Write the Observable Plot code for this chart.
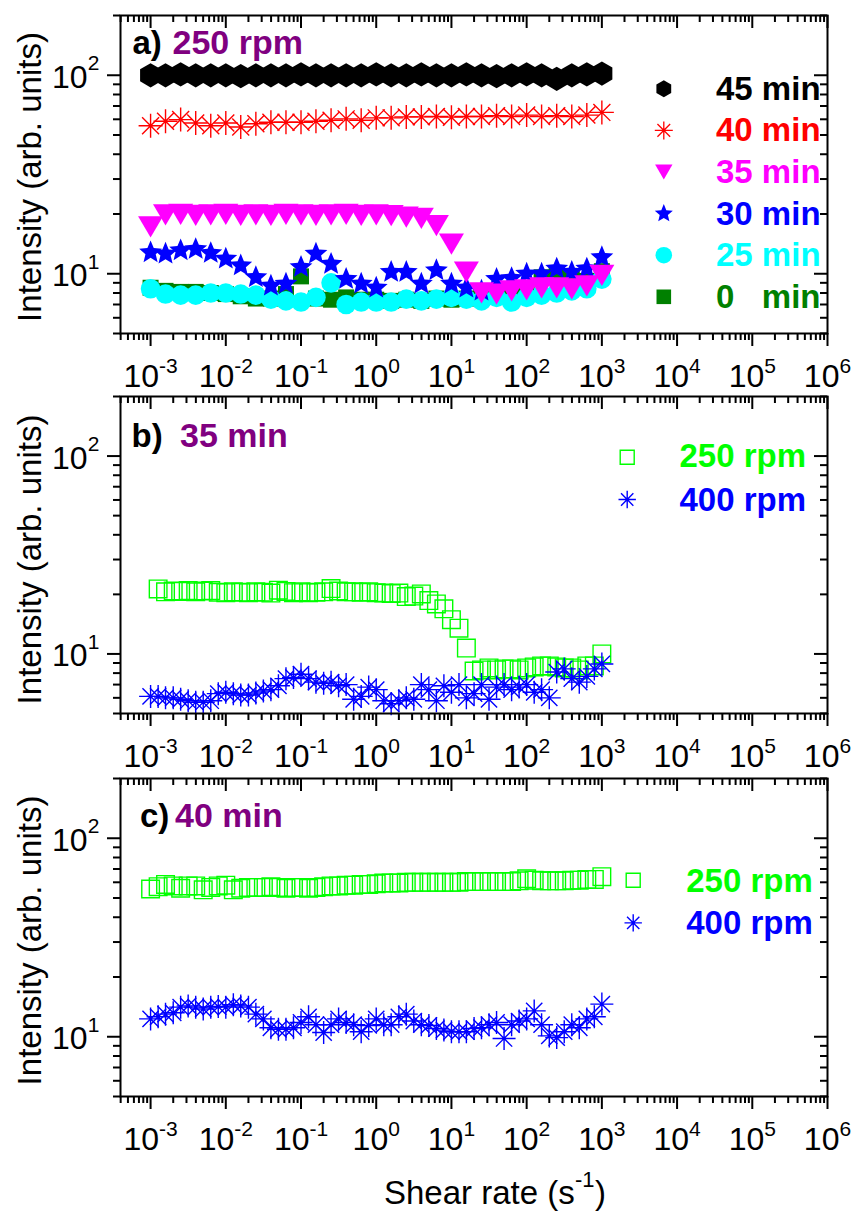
<!DOCTYPE html>
<html><head><meta charset="utf-8">
<script src="https://cdn.jsdelivr.net/npm/d3@7"></script>
<script src="https://cdn.jsdelivr.net/npm/@observablehq/plot@0.6"></script>
<style>
body{margin:0;background:#fff;}
#chart{position:relative;width:854px;height:1211px;background:#fff;overflow:hidden;}
#chart svg{position:absolute;left:0;overflow:visible;}
</style></head><body><div id="chart"></div>
<script>
// ---------- data ----------
const shearRateA = [0.001,0.00158,0.00251,0.00398,0.00631,0.01,0.0158,0.0251,0.0398,0.0631,0.1,0.158,0.251,0.398,0.631,1,1.58,2.51,3.98,6.31,10,15.8,25.1,39.8,63.1,100,158,251,398,631,1000];
const a45min = [100,100,101,100,100,100,99,100,100,100,101,100,100,100,100,101,100,100,101,100,100,101,100,99,100,101,100,96,100,101,102];
const a40min = [55.7,58.6,59.8,57.5,55.7,57.5,54.9,57.0,58.0,58.0,58.0,58.6,59.3,60.3,59.3,61.0,61.0,61.7,61.7,62.0,61.5,62.0,62.0,62.5,62.0,63.0,62.0,62.5,62.0,63.0,65.0];
const a35min = [17.2,19.8,19.9,19.7,19.8,19.9,19.7,19.8,19.7,19.9,19.8,19.7,19.8,19.9,19.7,19.8,19.6,19.3,19.0,17.5,14.1,10.2,8.0,7.9,8.2,8.3,8.5,8.5,8.4,8.7,9.8];
const a30min = [12.8,12.6,13.1,13.3,12.7,11.9,11.0,9.6,8.7,8.9,10.8,12.6,11.2,9.4,8.9,8.5,10.2,10.2,8.9,10.4,8.9,8.5,8.2,9.4,9.5,10.0,10.0,10.6,10.2,10.6,12.1];
const a25min = [8.4,7.9,7.8,7.8,8.0,8.0,7.9,7.8,7.45,7.3,7.2,7.6,9.0,7.0,7.2,7.2,7.2,7.45,7.3,7.45,7.6,7.45,7.3,7.6,7.2,7.6,7.8,8.0,8.2,8.4,9.4];
const a0min = [8.5,8.2,8.1,8.1,8.0,7.9,7.7,7.5,7.5,7.9,9.7,7.5,7.4,7.6,7.4,7.4,7.3,7.4,7.3,7.5,7.4,7.5,7.6,7.7,7.8,7.9,9.6,10.0,9.5,9.2,10.3];

const shearRateBC = [0.001,0.00126,0.00158,0.002,0.00251,0.00316,0.00398,0.00501,0.00631,0.00794,0.01,0.0126,0.0158,0.02,0.0251,0.0316,0.0398,0.0501,0.0631,0.0794,0.1,0.126,0.158,0.2,0.251,0.316,0.398,0.501,0.631,0.794,1,1.26,1.58,2,2.51,3.16,3.98,5.01,6.31,7.94,10,12.6,15.8,20,25.1,31.6,39.8,50.1,63.1,79.4,100,126,158,200,251,316,398,501,631,794,1000];
const b250rpm = [null,21.3,20.6,20.8,20.7,20.9,20.6,20.8,20.9,20.5, 20.4,20.6,20.5,20.4,20.6,20.5,20.3,21.0,20.7,20.4, 20.6,20.4,20.5,20.6,21.4,20.8,20.6,20.6,20.5,20.6, 20.4,20.3,20.2,20.3,19.5,19.6,20.1,18.6,17.9,16.9, 14.9,13.5,10.7,8.2,8.3,8.5,8.3,8.4,8.4,8.3, 8.5,8.6,8.7,8.7,8.6,8.5,8.5,8.3,8.7,8.7, 10.0];
const b400rpm = [6.1,6.1,6.0,6.0,5.9,5.8,5.7,5.7,5.8,6.3, 6.4,6.3,6.2,6.2,6.35,6.5,6.6,6.9,7.5,7.6, 7.9,7.5,7.2,7.1,7.2,6.9,7.0,5.9,6.1,6.8, 6.6,5.8,5.6,5.8,6.0,5.9,7.0,6.6,5.8,6.9, 6.4,7.0,6.0,6.3,7.0,5.9,6.8,7.0,6.6,6.8, 7.0,6.4,6.6,6.0,8.1,8.4,7.5,7.2,7.7,8.4, 8.9];
const c250rpm = [55.5,57,58.5,57.5,56,57.5,57.5,55,56.5,57.5, 58,55,56,56.5,56.5,56.5,57,56.5,56,56.5, 56.5,56,56.5,57,57.5,57.5,58,58,58.5,58.5, 59,59.5,59.5,59.5,60,60,60,60,60,60, 60,60,60.5,60.5,60.5,60.5,60.5,60.5,60.5,61, 62.5,61.5,61,61,61,61,61.5,61.5,62,62, 64];
const c400rpm = [12.3,12.6,13.0,13.2,14.1,14.3,14.1,13.8,14.1,14.2, 14.1,14.5,14.3,14.1,13.0,12.3,11.1,10.9,10.9,11.1, 11.8,12.6,11.5,10.5,11.5,12.3,11.8,11.5,10.6,11.4, 12.3,11.5,11.5,12.6,13.0,12.0,11.5,11.4,11.0,10.8, 10.6,10.6,10.6,11.0,11.1,11.5,11.8,9.8,11.5,12.0, 12.3,13.5,11.5,10.1,9.9,10.6,11.5,11.1,12.3,12.6, 14.6];

const xTickExponents = [-3,-2,-1,0,1,2,3,4,5,6];
const yTickExponents = [1,2];
const legendNamesA = ["45 min","40 min","35 min","30 min","25 min","0   min"];
const legendNamesBC = ["250 rpm","400 rpm"];
const panelTags = ["a)","b)","c)"];
const panelTitles = ["250 rpm","35 min","40 min"];
const yTitle = "Intensity (arb. units)";
const xTitleParts = ["Shear rate (s","-1",")"];

// ---------- style ----------
const FONT = "'Liberation Sans', Arial, Helvetica, sans-serif";
const C = {black:"#000000", red:"#FF0000", magenta:"#FF00FF", blue:"#0000FF", cyan:"#00FFFF", green:"#008000", lime:"#00FF00", purple:"#800080"};

// custom symbols: r passed by Plot => size = PI r^2
const rad = s => Math.sqrt(s / Math.PI);
const symAsterisk8 = {draw(c, s){const r = rad(s), d = r*Math.SQRT1_2;
  c.moveTo(-r,0); c.lineTo(r,0); c.moveTo(0,-r); c.lineTo(0,r);
  c.moveTo(-d,-d); c.lineTo(d,d); c.moveTo(-d,d); c.lineTo(d,-d);}};
const symTriDown = {draw(c, s){const r = rad(s), h = r*0.85;
  c.moveTo(-r,-h); c.lineTo(r,-h); c.lineTo(0,h); c.closePath();}};
const symSquare = {draw(c, s){const r = rad(s); c.rect(-r,-r,2*r,2*r);}};
const symHex = {draw(c, s){const rx = rad(s), ry = rx*1.1547, hy = ry/2;
  c.moveTo(0,ry); c.lineTo(rx,hy); c.lineTo(rx,-hy); c.lineTo(0,-ry); c.lineTo(-rx,-hy); c.lineTo(-rx,hy); c.closePath();}};
const symStar = {draw(c, s){const R = rad(s), ri = R*0.45;
  for (let i = 0; i < 10; i++){const a = -Math.PI/2 + i*Math.PI/5, rr = i%2 ? ri : R;
    const x = rr*Math.cos(a), y = rr*Math.sin(a); if(i===0) c.moveTo(x,y); else c.lineTo(x,y);} c.closePath();}};

const W = 854, ML = 120, MR = 27;
const xMinor = [], yMinor = [];
for (let e = -4; e <= 5; e++) for (let m = 2; m <= 9; m++){const v = m*10**e; if (v > 10**-3.4 && v < 1e6) xMinor.push(v);}
for (let e = 0; e <= 2; e++) for (let m = 2; m <= 9; m++){const v = m*10**e; if (v >= 5 && v <= 200) yMinor.push(v);}
const xMajor = xTickExponents.map(e => 10**e);
const yMajor = yTickExponents.map(e => 10**e);

function panel({top, height, mt, mb, seriesMarks, legendMarks, tagIndex, tagDx, titleDx, tagDy, yTitleDy, extra = []}){
  const plotW = W - ML - MR, plotH = height - mt - mb;
  const marks = [];
  const tk = {stroke:"black", strokeWidth:2};
  marks.push(Plot.tickX(xMajor, {x:d=>d, insetTop:plotH, insetBottom:-13, ...tk}));
  marks.push(Plot.tickX(xMinor, {x:d=>d, insetTop:plotH, insetBottom:-7, ...tk}));
  marks.push(Plot.tickX(xMajor, {x:d=>d, insetBottom:plotH-13, ...tk}));
  marks.push(Plot.tickX(xMinor, {x:d=>d, insetBottom:plotH-7, ...tk}));
  marks.push(Plot.tickY(yMajor, {y:d=>d, insetRight:plotW, insetLeft:-13, ...tk}));
  marks.push(Plot.tickY(yMinor, {y:d=>d, insetRight:plotW, insetLeft:-7, ...tk}));
  marks.push(Plot.tickY(yMajor, {y:d=>d, insetLeft:plotW-13, ...tk}));
  marks.push(Plot.tickY(yMinor, {y:d=>d, insetLeft:plotW-7, ...tk}));
  xTickExponents.forEach(e => {
    const ex = String(e);
    const wMain = 1.112*32, wExp = (ex.length > 1 ? 0.889 : 0.556)*21, tot = wMain + wExp;
    marks.push(Plot.text([10**e], {x:d=>d, frameAnchor:"bottom", text:()=> "10", textAnchor:"start", lineAnchor:"bottom", dx:-tot/2, dy:53.7, fontSize:32, fill:"black"}));
    marks.push(Plot.text([10**e], {x:d=>d, frameAnchor:"bottom", text:()=> ex, textAnchor:"start", lineAnchor:"bottom", dx:-tot/2 + wMain, dy:53.7-14, fontSize:21, fill:"black"}));
  });
  yTickExponents.forEach(e => {
    marks.push(Plot.text([10**e], {y:d=>d, frameAnchor:"left", text:()=> "10", textAnchor:"end", lineAnchor:"bottom", dx:-33, dy:12.5, fontSize:32, fill:"black"}));
    marks.push(Plot.text([10**e], {y:d=>d, frameAnchor:"left", text:()=> String(e), textAnchor:"end", lineAnchor:"bottom", dx:-21, dy:-5, fontSize:21, fill:"black"}));
  });
  marks.push(Plot.text([yTitle], {frameAnchor:"left", text:d=>d, rotate:-90, textAnchor:"middle", lineAnchor:"bottom", dx:-80, dy:yTitleDy, fontSize:33, fill:"black"}));
  marks.push(...seriesMarks);
  marks.push(...legendMarks);
  marks.push(Plot.text([panelTags[tagIndex]], {frameAnchor:"top-left", text:d=>d, textAnchor:"start", lineAnchor:"bottom", dx:tagDx, dy:tagDy, fontSize:33, fontWeight:"bold", fill:"black"}));
  marks.push(Plot.text([panelTitles[tagIndex]], {frameAnchor:"top-left", text:d=>d, textAnchor:"start", lineAnchor:"bottom", dx:titleDx, dy:tagDy, fontSize:34, fontWeight:"bold", fill:C.purple}));
  marks.push(...extra);
  marks.push(Plot.frame({stroke:"black", strokeWidth:2}));
  const svg = Plot.plot({
    width: W, height, marginLeft: ML, marginRight: MR, marginTop: mt, marginBottom: mb,
    x: {type:"log", domain:[10**-3.4, 1e6], axis:null},
    y: {type:"log", domain:[5, 200], axis:null},
    style: {fontFamily: FONT, background:"white", overflow:"visible"},
    marks
  });
  svg.style.top = top + "px";
  return svg;
}

// ---------- panel a ----------
const seriesA = [
  {y:a0min,  sym:symSquare,    r:8,    fill:C.green,   stroke:"none"},
  {y:a25min, sym:"circle",     r:9.8,  fill:C.cyan,    stroke:"none"},
  {y:a30min, sym:symStar,      r:12,   fill:C.blue,    stroke:"none"},
  {y:a35min, sym:symTriDown,   r:12.5, fill:C.magenta, stroke:"none"},
  {y:a40min, sym:symAsterisk8, r:12,   fill:"none",    stroke:C.red},
  {y:a45min, sym:symHex,       r:10.5, fill:C.black,   stroke:"none"}
];
const legendA = [
  {sym:symHex, r:7.4, fill:C.black, stroke:"none", color:C.black},
  {sym:symAsterisk8, r:9, fill:"none", stroke:C.red, color:C.red},
  {sym:symTriDown, r:8.7, fill:C.magenta, stroke:"none", color:C.magenta},
  {sym:symStar, r:9.5, fill:C.blue, stroke:"none", color:C.blue},
  {sym:"circle", r:8.3, fill:C.cyan, stroke:"none", color:C.cyan},
  {sym:symSquare, r:7.3, fill:C.green, stroke:"none", color:C.green}
];
const chart = document.getElementById("chart");
chart.appendChild(panel({
  top:0, height:390, mt:15, mb:57, tagIndex:0, tagDx:12, titleDx:52, tagDy:38.3, yTitleDy:2.5,
  seriesMarks: seriesA.map(s => Plot.dot(s.y, {x:shearRateA, y:s.y, symbol:s.sym, r:s.r, fill:s.fill, stroke:s.stroke, strokeWidth:1.4})),
  legendMarks: legendA.flatMap((L, i) => {
    const cy = 73.3 + 41.6*i;
    return [
      Plot.dot([0], {frameAnchor:"top-left", dx:543.3, dy:cy, symbol:L.sym, r:L.r, fill:L.fill, stroke:L.stroke, strokeWidth:1.3}),
      Plot.text([legendNamesA[i]], {frameAnchor:"top-left", text:d=>d, textAnchor:"start", lineAnchor:"bottom", dx:595.5, dy:cy+11, fontSize:33, fontWeight:"bold", fill:L.color})
    ];
  })
}));

// ---------- panels b and c ----------
function bcSeries(y250, y400){
  return [
    Plot.dot(y250, {x:shearRateBC, y:y250, symbol:symSquare, r:8.8, fill:"none", stroke:C.lime, strokeWidth:1.4}),
    Plot.dot(y400, {x:shearRateBC, y:y400, symbol:symAsterisk8, r:11.5, fill:"none", stroke:C.blue, strokeWidth:1.4})
  ];
}
function bcLegend(mx, my0, my1, tx, ty0, ty1){
  return [
    Plot.dot([0], {frameAnchor:"top-left", dx:mx, dy:my0, symbol:symSquare, r:7, fill:"none", stroke:C.lime, strokeWidth:1.4}),
    Plot.dot([0], {frameAnchor:"top-left", dx:mx, dy:my1, symbol:symAsterisk8, r:8.7, fill:"none", stroke:C.blue, strokeWidth:1.4}),
    Plot.text([legendNamesBC[0]], {frameAnchor:"top-left", text:d=>d, textAnchor:"start", lineAnchor:"bottom", dx:tx, dy:ty0, fontSize:33, fontWeight:"bold", fill:C.lime}),
    Plot.text([legendNamesBC[1]], {frameAnchor:"top-left", text:d=>d, textAnchor:"start", lineAnchor:"bottom", dx:tx, dy:ty1, fontSize:33, fontWeight:"bold", fill:C.blue})
  ];
}
chart.appendChild(panel({
  top:390, height:385, mt:6, mb:62, tagIndex:1, tagDx:11, titleDx:59.5, tagDy:50.7, yTitleDy:4.5,
  seriesMarks: bcSeries(b250rpm, b400rpm),
  legendMarks: bcLegend(506.7, 60.7, 103, 559, 70.7, 114)
}));
chart.appendChild(panel({
  top:775, height:436, mt:3, mb:115, tagIndex:2, tagDx:19.5, titleDx:54.5, tagDy:48.4, yTitleDy:3,
  seriesMarks: bcSeries(c250rpm, c400rpm),
  legendMarks: bcLegend(512.7, 101.7, 144.4, 565.7, 113.4, 155),
  extra: [
    Plot.text([xTitleParts[0]], {frameAnchor:"bottom", text:d=>d, textAnchor:"start", lineAnchor:"bottom", dx:-90, dy:107.3, fontSize:33, fill:"black"}),
    Plot.text([xTitleParts[1]], {frameAnchor:"bottom", text:d=>d, textAnchor:"start", lineAnchor:"bottom", dx:101, dy:90.3, fontSize:22, fill:"black"}),
    Plot.text([xTitleParts[2]], {frameAnchor:"bottom", text:d=>d, textAnchor:"start", lineAnchor:"bottom", dx:121, dy:107.3, fontSize:33, fill:"black"})
  ]
}));
</script></body></html>
